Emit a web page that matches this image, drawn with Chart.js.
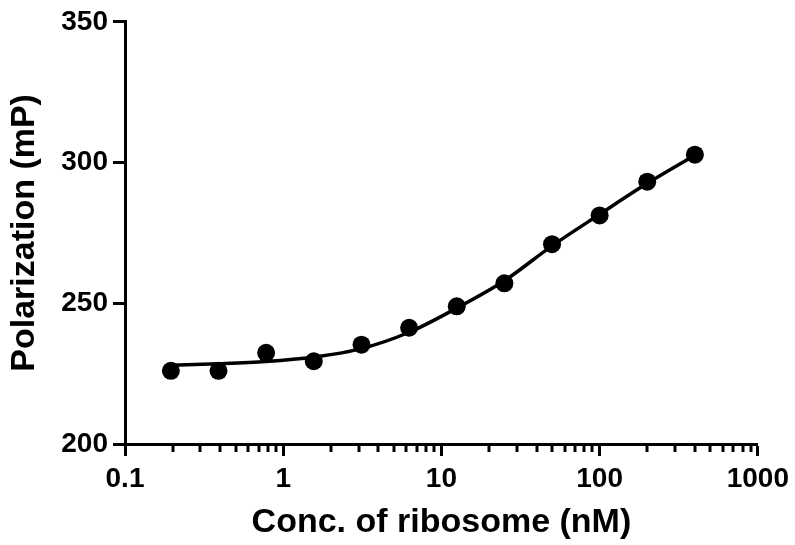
<!DOCTYPE html>
<html><head><meta charset="utf-8">
<script src="https://cdn.jsdelivr.net/npm/chart.js@4/dist/chart.umd.min.js"></script>
<style>html,body{margin:0;padding:0;background:#fff}#wrap{width:795px;height:545px}</style>
</head><body><div id="wrap"><canvas id="c" width="795" height="545"></canvas></div>
<script>
const concentrations = [0.195, 0.39, 0.78, 1.56, 3.125, 6.25, 12.5, 25, 50, 100, 200, 400];
const polarization = [226.0, 226.0, 232.4, 229.4, 235.3, 241.3, 248.9, 257.1, 271.0, 281.2, 293.2, 302.8];
const fitConcentrations = [0.195, 0.39, 0.78, 1.56, 3.125, 6.25, 12.5, 25, 50, 100, 200, 400];
const fitPolarization = [228.0, 228.5, 229.3, 230.9, 233.9, 239.7, 248.3, 258.0, 270.4, 281.6, 292.6, 302.6];
const xTickValues = [0.1, 1, 10, 100, 1000];
const xTickLabels = ['0.1', '1', '10', '100', '1000'];
const yTickValues = [200, 250, 300, 350];
const minorMultipliers = [2, 3, 4, 5, 6, 7, 8, 9];
const xTitle = 'Conc. of ribosome (nM)';
const yTitle = 'Polarization (mP)';

const FONT = "'Liberation Sans', Arial, sans-serif";
Chart.defaults.font.family = FONT;
Chart.defaults.font.weight = 'bold';
Chart.defaults.color = '#000';

const minorTicks = [];
for (let i = 0; i < xTickValues.length - 1; i++) {
  minorMultipliers.forEach(m => minorTicks.push(xTickValues[i] * m));
}

const minorTickPlugin = {
  id: 'minorTicks',
  afterDraw(chart) {
    const s = chart.scales.x;
    const ctx = chart.ctx;
    const y0 = chart.chartArea.bottom;
    ctx.save();
    ctx.strokeStyle = '#000';
    ctx.lineWidth = 3;
    minorTicks.forEach(v => {
      const px = Math.round(s.getPixelForValue(v));
      ctx.beginPath();
      ctx.moveTo(px, y0);
      ctx.lineTo(px, y0 + 8);
      ctx.stroke();
    });
    ctx.restore();
  }
};

new Chart(document.getElementById('c'), {
  type: 'scatter',
  data: {
    datasets: [
      {
        data: concentrations.map((x, i) => ({x, y: polarization[i]})),
        showLine: false,
        pointRadius: 9,
        pointHoverRadius: 9,
        pointBackgroundColor: '#000',
        pointBorderColor: '#000',
        pointBorderWidth: 0
      },
      {
        data: fitConcentrations.map((x, i) => ({x, y: fitPolarization[i]})),
        showLine: true,
        pointRadius: 0,
        borderColor: '#000',
        borderWidth: 3.5,
        cubicInterpolationMode: 'monotone',
        fill: false
      }
    ]
  },
  options: {
    responsive: false,
    animation: false,
    devicePixelRatio: 1,
    layout: {padding: {left: 0, right: 37, top: 20, bottom: 0}},
    plugins: {legend: {display: false}, tooltip: {enabled: false}},
    scales: {
      x: {
        type: 'logarithmic',
        min: 0.1, max: 1000,
        border: {display: true, color: '#000', width: 3},
        grid: {drawOnChartArea: false, drawTicks: true, tickLength: 12, tickWidth: 3, tickColor: '#000'},
        afterBuildTicks: s => { s.ticks = xTickValues.map(v => ({value: v, major: true})); },
        ticks: {
          autoSkip: false, maxRotation: 0, padding: 6,
          font: {size: 28, weight: 'bold', family: FONT}, color: '#000',
          callback: (v) => { const i = xTickValues.indexOf(v); return i >= 0 ? xTickLabels[i] : ''; }
        },
        title: {display: true, text: xTitle, font: {size: 34, weight: 'bold', family: FONT}, color: '#000', padding: {top: 0, bottom: 2}},
        afterFit: s => { s.height = 101; }
      },
      y: {
        min: 200, max: 350,
        border: {display: true, color: '#000', width: 3},
        grid: {drawOnChartArea: false, drawTicks: true, tickLength: 12, tickWidth: 3, tickColor: '#000'},
        afterBuildTicks: s => { s.ticks = yTickValues.map(v => ({value: v})); },
        ticks: {
          padding: 5,
          font: {size: 28, weight: 'bold', family: FONT}, color: '#000'
        },
        title: {display: true, text: yTitle, font: {size: 34, weight: 'bold', family: FONT}, color: '#000', padding: {top: 4, bottom: 0}},
        afterFit: s => { s.width = 125; }
      }
    }
  },
  plugins: [minorTickPlugin]
});
</script>
</body></html>
